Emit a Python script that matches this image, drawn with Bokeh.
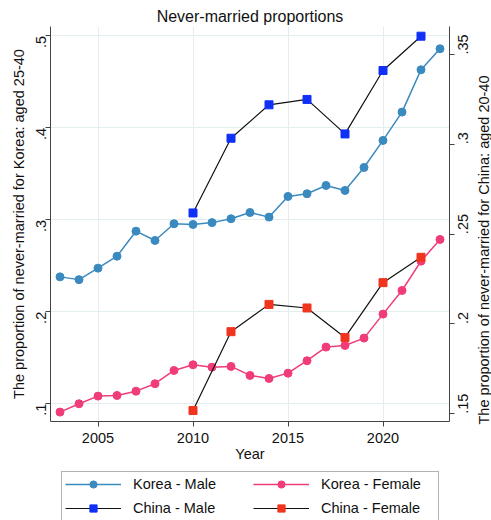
import math
from bokeh.plotting import figure
from bokeh.layouts import column, row
from bokeh.core.properties import value
from bokeh.models import (Range1d, LinearAxis, FixedTicker, CustomJSTickFormatter,
                          Legend, LegendItem, Title)
from bokeh.embed import file_html
from bokeh.resources import INLINE

# ---- data ----
years_korea = list(range(2003, 2024))
korea_male = [0.238, 0.235, 0.2475, 0.2605, 0.2877, 0.2776, 0.2958, 0.295, 0.297,
              0.3012, 0.308, 0.303, 0.3255, 0.3284, 0.3374, 0.332, 0.357, 0.3864,
              0.4172, 0.4632, 0.4861]
korea_female = [0.0909, 0.100, 0.1083, 0.109, 0.1137, 0.1218, 0.1362, 0.1424, 0.1398,
                0.1406, 0.1308, 0.1275, 0.1333, 0.1468, 0.1616, 0.1634, 0.1714, 0.1975,
                0.2232, 0.2551, 0.2787]
years_china = [2010, 2012, 2014, 2016, 2018, 2020, 2022]
china_male = [0.2618, 0.3034, 0.322, 0.325, 0.3058, 0.3411, 0.3602]
china_female = [0.1518, 0.1957, 0.2109, 0.2089, 0.1925, 0.223, 0.2371]

x_ticks = [2005, 2010, 2015, 2020]
left_ticks = [0.1, 0.2, 0.3, 0.4, 0.5]
right_ticks = [0.15, 0.2, 0.25, 0.3, 0.35]

title_text = "Never-married proportions"
x_label = "Year"
left_label = "The proportion of never-married for Korea: aged 25-40"
right_label = "The proportion of never-married for China: aged 20-40"
labels = ["Korea - Male", "Korea - Female", "China - Male", "China - Female"]

# ---- style ----
FONT = "Liberation Sans"
FS = "14.5px"
C_KM = "#3a8ac0"
C_KF = "#f03c78"
C_CM = "#1030f8"
C_CF = "#f0341e"
AXIS_C = "#444444"
GRID_C = "#e4eef0"
TXT_C = "#111111"

X0, X1 = 2002.5, 2023.5
YL0, YL1 = 0.0807, 0.5103
YR0, YR1 = 0.1457, 0.3656

# layout (pixels)
TOTAL_W, TOTAL_H = 491, 520
B_LEFT, B_RIGHT, B_TOP, B_BOTTOM = 50, 24, 26, 39
FRAME_W, FRAME_H = 399, 395
P_W = B_LEFT + FRAME_W + B_RIGHT
P_H = B_TOP + FRAME_H + B_BOTTOM
R_W = TOTAL_W - P_W
Q_H = TOTAL_H - P_H

p = figure(width=P_W, height=P_H, frame_width=FRAME_W, frame_height=FRAME_H,
           output_backend="svg", toolbar_location=None,
           x_range=Range1d(X0, X1), y_range=Range1d(YL0, YL1),
           min_border_left=B_LEFT, min_border_right=B_RIGHT,
           min_border_top=B_TOP, min_border_bottom=B_BOTTOM,
           background_fill_color="white", border_fill_color="white")
p.outline_line_color = None

p.title = Title(text=title_text, align="center", text_font=FONT, text_font_size="16px",
                text_font_style="normal", text_color=TXT_C, standoff=4)

p.extra_y_ranges = {"china": Range1d(YR0, YR1)}

fmt = CustomJSTickFormatter(code="return tick.toString().replace(/^0\\./, '.');")

xa = p.xaxis[0]
xa.ticker = FixedTicker(ticks=x_ticks)
xa.axis_label = x_label

ya = p.yaxis[0]
ya.ticker = FixedTicker(ticks=left_ticks)
ya.formatter = fmt
ya.axis_label = left_label
ya.major_label_orientation = math.pi / 2

ra = LinearAxis(y_range_name="china", ticker=FixedTicker(ticks=right_ticks), formatter=fmt)
ra.major_label_orientation = math.pi / 2
p.add_layout(ra, "right")

for ax in [xa, ya, ra]:
    ax.axis_line_color = AXIS_C
    ax.major_tick_line_color = AXIS_C
    ax.minor_tick_line_color = None
    ax.major_tick_out = 5
    ax.major_tick_in = 0
    ax.major_label_text_font = FONT
    ax.major_label_text_font_size = FS
    ax.major_label_text_color = TXT_C
    ax.axis_label_text_font = FONT
    ax.axis_label_text_font_size = FS
    ax.axis_label_text_font_style = "normal"
    ax.axis_label_text_color = TXT_C
xa.major_label_standoff = 6
xa.axis_label_standoff = 0
ya.major_label_standoff = 4
ya.axis_label_standoff = 2
ra.major_label_standoff = 9

p.xgrid.grid_line_color = GRID_C
p.ygrid.grid_line_color = GRID_C
p.xgrid.ticker = FixedTicker(ticks=x_ticks)
p.ygrid.ticker = FixedTicker(ticks=left_ticks)

# ---- series ----
p.line(years_korea, korea_male, line_color=C_KM, line_width=1.5)
p.scatter(years_korea, korea_male, marker="circle", size=8, fill_color=C_KM, line_color=C_KM)
p.line(years_korea, korea_female, line_color=C_KF, line_width=1.5)
p.scatter(years_korea, korea_female, marker="circle", size=8, fill_color=C_KF, line_color=C_KF)
p.line(years_china, china_male, line_color=TXT_C, line_width=1.2, y_range_name="china")
p.scatter(years_china, china_male, marker="square", size=8, fill_color=C_CM, line_color=C_CM,
          y_range_name="china")
p.line(years_china, china_female, line_color=TXT_C, line_width=1.2, y_range_name="china")
p.scatter(years_china, china_female, marker="square", size=8, fill_color=C_CF, line_color=C_CF,
          y_range_name="china")

# ---- right axis title strip (reads bottom-to-top) ----
r = figure(width=R_W, height=P_H, frame_width=R_W, frame_height=P_H,
           output_backend="svg", toolbar_location=None,
           x_range=Range1d(0, R_W), y_range=Range1d(0, P_H),
           x_axis_type=None, y_axis_type=None,
           min_border_left=0, min_border_right=0, min_border_top=0, min_border_bottom=0,
           background_fill_color="white", border_fill_color="white")
r.outline_line_color = None
r.grid.visible = False
r.text(x=[480 - P_W], y=[P_H - (B_TOP + FRAME_H / 2)], text=[right_label], angle=math.pi / 2,
       text_align="center", text_baseline="middle", text_font=value(FONT),
       text_font_size=value(FS), text_color=TXT_C)

# ---- legend strip ----
q = figure(width=TOTAL_W, height=Q_H, frame_width=TOTAL_W, frame_height=Q_H,
           output_backend="svg", toolbar_location=None,
           x_range=Range1d(0, 1), y_range=Range1d(0, 1),
           x_axis_type=None, y_axis_type=None,
           min_border_left=0, min_border_right=0, min_border_top=0, min_border_bottom=0,
           background_fill_color="white", border_fill_color="white")
q.outline_line_color = None
# legend keys use the same series (they fall outside this strip's ranges)
r1 = [q.line(years_korea, korea_male, line_color=C_KM, line_width=1.5),
      q.scatter(years_korea, korea_male, marker="circle", size=8, fill_color=C_KM, line_color=C_KM)]
r2 = [q.line(years_korea, korea_female, line_color=C_KF, line_width=1.5),
      q.scatter(years_korea, korea_female, marker="circle", size=8, fill_color=C_KF, line_color=C_KF)]
r3 = [q.line(years_china, china_male, line_color=TXT_C, line_width=1.2),
      q.scatter(years_china, china_male, marker="square", size=8, fill_color=C_CM, line_color=C_CM)]
r4 = [q.line(years_china, china_female, line_color=TXT_C, line_width=1.2),
      q.scatter(years_china, china_female, marker="square", size=8, fill_color=C_CF, line_color=C_CF)]

legend = Legend(items=[
    LegendItem(label=labels[0], renderers=r1),
    LegendItem(label=labels[1], renderers=r2),
    LegendItem(label=labels[2], renderers=r3),
    LegendItem(label=labels[3], renderers=r4),
], orientation="horizontal", ncols=2, location=(61, 3))
legend.label_text_font = FONT
legend.label_text_font_size = FS
legend.label_text_color = TXT_C
legend.glyph_width = 56
legend.glyph_height = 18
legend.label_height = 18
legend.label_width = 114
legend.label_standoff = 12
legend.spacing = 6
legend.padding = 3
legend.margin = 0
legend.border_line_color = "#666666"
legend.border_line_width = 1
legend.background_fill_color = "white"
q.add_layout(legend)

layout = column(row(p, r, spacing=0), q, spacing=0)
open("out.html", "w").write(file_html(layout, INLINE))
